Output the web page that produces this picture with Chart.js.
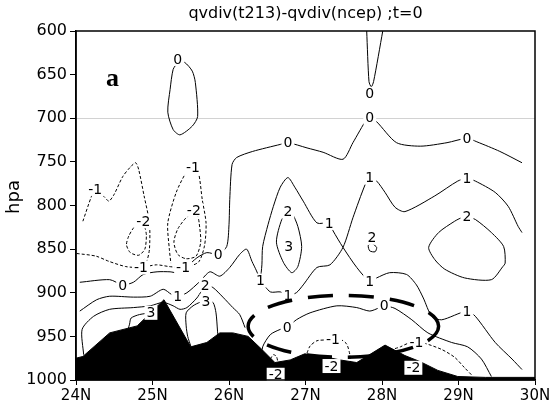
<!DOCTYPE html>
<html>
<head>
<meta charset="utf-8">
<script src="https://cdn.jsdelivr.net/npm/chart.js@4.4.0/dist/chart.umd.min.js"></script>
<style>
    html, body { margin: 0; padding: 0; background: #fff; }
</style>
</head>
<body>
<canvas id="chart01" width="558" height="407"></canvas>
<script>
// terreno (preenchido em preto)
const terrainLon = [24.00, 24.09, 24.44, 24.80, 25.15, 25.50, 25.71, 25.88, 26.05, 26.25, 26.43, 26.60, 26.80, 26.99, 27.23, 27.45, 27.67, 28.04, 28.30, 28.50, 28.73, 28.99, 29.35, 30.00];
const terrainHpa = [975, 973, 946, 938, 908, 962, 957, 946, 946, 950, 965, 980, 977, 970, 973, 977, 980, 960, 972, 979, 989, 996, 997, 997];

// isolinhas 0
const zeroTopLon = [25.33, 25.42, 25.52, 25.56, 25.59, 25.52, 25.36, 25.27, 25.20, 25.23, 25.27, 25.33];
const zeroTopHpa = [636, 636, 646, 659, 698, 709, 719, 713, 693, 667, 644, 636];
const zeroWedgeLon = [27.80, 27.83, 27.86, 27.89, 28.01];
const zeroWedgeHpa = [600, 658, 664, 658, 600];
const zeroMainLon = [24.05, 24.44, 24.61, 24.75, 24.88, 25.06, 25.23, 25.33, 25.45, 25.58, 25.71, 25.86, 25.97, 26.00, 26.01, 26.04, 26.10, 26.31, 26.67, 26.77, 27.02, 27.23, 27.49, 27.62, 27.80, 27.84, 27.93, 28.19, 28.50, 28.85, 29.11, 29.24, 29.54, 29.83];
const zeroMainHpa = [888, 885, 891, 888, 879, 876, 876, 877, 870, 860, 854, 856, 847, 822, 793, 753, 745, 738, 730, 728, 734, 739, 747, 728, 701, 699, 704, 728, 732, 728, 723, 727, 738, 751];
const zeroLowLon = [26.43, 26.44, 26.54, 26.67, 26.76, 26.88, 27.06, 27.41, 27.67, 27.84, 27.97, 28.03, 28.17, 28.39, 28.60, 28.91, 29.12, 29.30, 29.43];
const zeroLowHpa = [976, 962, 948, 942, 940, 931, 923, 915, 917, 921, 917, 915, 918, 931, 946, 957, 962, 976, 996];

// isolinhas 1
const oneLeftLon = [24.05, 24.27, 24.44, 24.75, 24.97, 25.14, 25.25, 25.33, 25.45, 25.62, 25.75, 25.88, 26.01, 26.14, 26.23, 26.30, 26.36, 26.41];
const oneLeftHpa = [921, 908, 904, 905, 904, 896, 902, 904, 900, 887, 876, 881, 871, 856, 850, 864, 875, 886];
const onePeakLon = [26.41, 26.43, 26.44, 26.51, 26.58, 26.67, 26.77, 26.86, 26.97, 27.15, 27.31, 27.36, 27.49, 27.67, 27.84, 27.93, 28.10, 28.32, 28.45, 28.54, 28.65, 28.78, 29.11, 29.22, 29.48, 29.70, 29.83];
const onePeakHpa = [886, 868, 847, 822, 801, 779, 768, 779, 795, 820, 820, 829, 848, 871, 887, 883, 877, 879, 891, 906, 927, 931, 921, 927, 957, 976, 988];
const oneCrossLon = [26.41, 26.54, 26.67, 26.77, 26.88, 26.97, 27.15, 27.32, 27.49, 27.62, 27.78, 27.84, 27.93, 28.04, 28.17, 28.30, 28.69, 28.99, 29.11, 29.22, 29.48, 29.65, 29.78, 29.83];
const oneCrossHpa = [886, 899, 899, 903, 900, 891, 871, 868, 848, 814, 776, 768, 772, 785, 802, 807, 789, 772, 769, 772, 785, 801, 824, 831];

// isolinhas 2 e 3
const twoMidLon = [26.77, 26.82, 26.90, 26.95, 26.90, 26.82, 26.71, 26.62, 26.69, 26.77];
const twoMidHpa = [807, 808, 824, 847, 870, 877, 865, 842, 816, 807];
const twoSmallLon = [27.86, 27.82, 27.84, 27.91, 27.93, 27.88, 27.86];
const twoSmallHpa = [843, 846, 852, 853, 848, 844, 843];
const twoRightLon = [29.11, 29.22, 29.43, 29.59, 29.61, 29.58, 29.43, 29.08, 28.82, 28.69, 28.61, 28.74, 28.95, 29.04, 29.11];
const twoRightHpa = [813, 816, 831, 847, 866, 870, 885, 883, 873, 862, 848, 831, 818, 814, 813];
const twoLeftLon = [24.10, 24.08, 24.23, 24.44, 24.75, 24.97, 25.14, 25.27, 25.36, 25.45, 25.58, 25.64, 25.69, 25.79, 25.92, 26.05, 26.14, 26.21];
const twoLeftHpa = [971, 942, 927, 919, 917, 915, 911, 915, 919, 917, 906, 898, 891, 894, 905, 917, 925, 940];
const threeLeftLon = [24.68, 24.70, 24.72, 24.83, 24.98];
const threeLeftHpa = [942, 936, 929, 925, 923];
const threeRightLon = [25.50, 25.46, 25.44, 25.44, 25.53, 25.62, 25.70, 25.79, 25.83, 25.85, 25.86];
const threeRightHpa = [961, 950, 938, 923, 915, 911, 910, 911, 923, 944, 954];

// isolinhas negativas (tracejadas)
const negOneALon = [24.09, 24.20, 24.25, 24.37, 24.43, 24.50, 24.61, 24.71, 24.78, 24.82, 24.89, 24.96, 24.96, 24.92, 24.85];
const negOneAHpa = [818, 790, 781, 790, 795, 787, 767, 756, 751, 759, 789, 820, 850, 865, 871];
const negOneBLon = [24.01, 24.26, 24.43, 24.65, 24.85, 25.05, 25.22, 25.40, 25.60, 25.68, 25.70, 25.65, 25.60, 25.53, 25.44, 25.31, 25.20, 25.22, 25.24];
const negOneBHpa = [855, 858, 864, 870, 871, 868, 870, 871, 865, 846, 820, 793, 762, 754, 762, 785, 820, 850, 866];
const negOneDomeLon = [27.02, 27.06, 27.15, 27.28, 27.36, 27.47, 27.54, 27.58, 27.59];
const negOneDomeHpa = [969, 961, 955, 954, 953, 954, 959, 971, 980];
const negOneRightLon = [28.17, 28.24, 28.34, 28.45, 28.56, 28.78, 28.95, 29.08, 29.18];
const negOneRightHpa = [964, 962, 958, 957, 958, 965, 974, 986, 995];
const negOneTinyLon = [26.54, 26.58, 26.62, 26.64];
const negOneTinyHpa = [976, 971, 973, 980];
const negTwoLeftLon = [24.88, 24.82, 24.76, 24.69, 24.66, 24.71, 24.82, 24.90, 24.92, 24.90, 24.88];
const negTwoLeftHpa = [822, 824, 825, 835, 845, 854, 857, 850, 834, 825, 822];
const negTwoRightLon = [25.54, 25.44, 25.33, 25.28, 25.33, 25.44, 25.57, 25.63, 25.61, 25.59, 25.54];
const negTwoRightHpa = [808, 814, 827, 842, 856, 861, 858, 842, 820, 812, 808];

// rótulos das isolinhas
const labelText = ['0', '0', '0', '0', '0', '0', '0', '0', '0',
    '1', '1', '1', '1', '1', '1', '1', '1',
    '2', '2', '2', '2',
    '3', '3', '3',
    '-1', '-1', '-1', '-1', '-1', '-1',
    '-2', '-2', '-2', '-2', '-2'];
const labelLon = [25.33, 27.84, 24.61, 25.86, 26.77, 27.84, 29.11, 26.76, 28.03,
    25.33, 26.41, 26.77, 27.84, 27.31, 27.84, 29.11, 29.11,
    25.69, 26.77, 27.87, 29.11,
    25.70, 26.78, 24.98,
    24.25, 25.53, 24.85, 25.40, 27.36, 28.45,
    24.88, 25.54, 26.61, 27.34, 28.41];
const labelHpa = [632, 672, 891, 856, 728, 699, 723, 940, 915,
    904, 886, 903, 768, 820, 887, 769, 921,
    891, 807, 837, 813,
    910, 847, 923,
    781, 756, 871, 871, 953, 957,
    818, 805, 994, 984, 986];

// elipse destacada: centro (lon, hPa) e raios
const ellipseCenter = [27.495, 938.5];
const ellipseRadius = [1.245, 35.5];

const lonTicks = [24, 25, 26, 27, 28, 29, 30];
const hpaTicks = [600, 650, 700, 750, 800, 850, 900, 950, 1000];

const contours = [
    [zeroTopLon, zeroTopHpa, false], [zeroWedgeLon, zeroWedgeHpa, false],
    [zeroMainLon, zeroMainHpa, false], [zeroLowLon, zeroLowHpa, false],
    [oneLeftLon, oneLeftHpa, false], [onePeakLon, onePeakHpa, false], [oneCrossLon, oneCrossHpa, false],
    [twoMidLon, twoMidHpa, false], [twoSmallLon, twoSmallHpa, false], [twoRightLon, twoRightHpa, false],
    [twoLeftLon, twoLeftHpa, false], [threeLeftLon, threeLeftHpa, false], [threeRightLon, threeRightHpa, false],
    [negOneALon, negOneAHpa, true], [negOneBLon, negOneBHpa, true], [negOneDomeLon, negOneDomeHpa, true],
    [negOneRightLon, negOneRightHpa, true], [negOneTinyLon, negOneTinyHpa, true],
    [negTwoLeftLon, negTwoLeftHpa, true], [negTwoRightLon, negTwoRightHpa, true]
];

const toPoints = (lon, hpa) => lon.map((v, i) => ({ x: v, y: hpa[i] }));

const datasets = [{
    data: toPoints(terrainLon, terrainHpa),
    borderColor: '#000',
    backgroundColor: '#000',
    borderWidth: 1,
    pointRadius: 0,
    tension: 0,
    fill: { value: 1000 }
}];
contours.forEach(c => {
    datasets.push({
        data: toPoints(c[0], c[1]),
        borderColor: '#000',
        borderWidth: 1,
        borderDash: c[2] ? [3, 2] : [],
        pointRadius: 0,
        tension: 0.25,
        fill: false
    });
});

const overlay = {
    id: 'overlay',
    afterDatasetsDraw(chart) {
        const { ctx, chartArea: a, scales: { x, y } } = chart;
        ctx.save();

        ctx.font = '14px "DejaVu Sans"';
        ctx.textAlign = 'center';
        ctx.textBaseline = 'middle';
        labelText.forEach((t, i) => {
            const px = x.getPixelForValue(labelLon[i]);
            const py = y.getPixelForValue(labelHpa[i]);
            const w = ctx.measureText(t).width;
            ctx.fillStyle = '#fff';
            ctx.fillRect(px - w / 2 - 2, py - 7, w + 4, 14);
            ctx.fillStyle = '#000';
            ctx.fillText(t, px, py + 1);
        });

        const cx = x.getPixelForValue(ellipseCenter[0]);
        const cy = y.getPixelForValue(ellipseCenter[1]);
        const rx = Math.abs(x.getPixelForValue(ellipseCenter[0] + ellipseRadius[0]) - cx);
        const ry = Math.abs(y.getPixelForValue(ellipseCenter[1] + ellipseRadius[1]) - cy);
        ctx.beginPath();
        ctx.ellipse(cx, cy, rx, ry, 0, 0, Math.PI * 2);
        ctx.setLineDash([25, 16]);
        ctx.lineDashOffset = 6;
        ctx.lineWidth = 3.5;
        ctx.strokeStyle = '#000';
        ctx.stroke();
        ctx.setLineDash([]);

        ctx.lineWidth = 1.5;
        ctx.strokeRect(a.left, a.top, a.right - a.left, a.bottom - a.top);

        ctx.fillStyle = '#000';
        ctx.font = '16px "DejaVu Sans"';
        ctx.fillText('qvdiv(t213)-qvdiv(ncep) ;t=0', (a.left + a.right) / 2, 14);

        ctx.textAlign = 'left';
        ctx.textBaseline = 'alphabetic';
        ctx.font = 'bold 26px "Liberation Serif"';
        ctx.fillText('a', 106, 86);

        ctx.translate(14, 197);
        ctx.rotate(-Math.PI / 2);
        ctx.textAlign = 'center';
        ctx.textBaseline = 'middle';
        ctx.font = '18px "DejaVu Sans"';
        ctx.fillText('hpa', 0, 0);
        ctx.restore();
    }
};

const chart = new Chart(document.getElementById('chart01'), {
    type: 'line',
    data: { datasets: datasets },
    options: {
        responsive: false,
        animation: false,
        events: [],
        layout: { padding: { top: 31, right: 23, left: 0, bottom: 0 } },
        plugins: { legend: { display: false }, tooltip: { enabled: false } },
        scales: {
            x: {
                type: 'linear',
                min: 24,
                max: 30,
                afterFit: s => { s.height = 27; },
                afterBuildTicks: s => { s.ticks = lonTicks.map(v => ({ value: v })); },
                border: { color: '#000', width: 1.5 },
                grid: { drawOnChartArea: false, tickLength: 5, tickColor: '#000' },
                ticks: {
                    color: '#000',
                    padding: 2,
                    maxRotation: 0,
                    autoSkip: false,
                    font: { family: 'DejaVu Sans', size: 15 },
                    callback: v => v + 'N'
                }
            },
            y: {
                type: 'linear',
                reverse: true,
                min: 600,
                max: 1000,
                afterFit: s => { s.width = 76; },
                afterBuildTicks: s => { s.ticks = hpaTicks.map(v => ({ value: v })); },
                border: { color: '#000', width: 1.5 },
                grid: {
                    color: c => (c.tick && c.tick.value === 700 ? '#d2d2d2' : 'rgba(0,0,0,0)'),
                    tickColor: '#000',
                    tickLength: 6
                },
                ticks: {
                    color: '#000',
                    padding: 3,
                    autoSkip: false,
                    font: { family: 'DejaVu Sans', size: 16 },
                    callback: v => String(v)
                }
            }
        }
    },
    plugins: [overlay]
});
</script>
</body>
</html>
